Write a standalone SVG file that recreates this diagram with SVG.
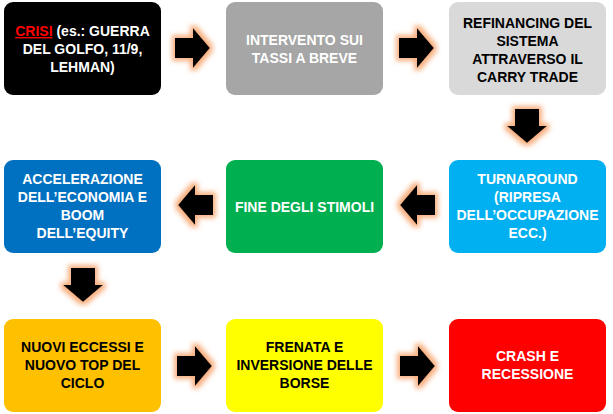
<svg xmlns="http://www.w3.org/2000/svg" width="613" height="414" viewBox="0 0 613 414">
<defs>
<filter id="glow" x="-40%" y="-40%" width="180%" height="180%">
<feMorphology in="SourceAlpha" operator="dilate" radius="3" result="d"/>
<feGaussianBlur in="d" stdDeviation="2.8" result="b"/>
<feFlood flood-color="#F7A26B" flood-opacity="0.85"/>
<feComposite in2="b" operator="in" result="g"/>
<feMerge><feMergeNode in="g"/><feMergeNode in="SourceGraphic"/></feMerge>
</filter>
<path id="ar" d="M0,-10 H18 V-20 L35,0 L18,20 V10 H0 Z"/>
<path id="al" d="M0,0 L17,-20 V-10 H35 V10 H17 V20 Z"/>
<path id="ad" d="M-12,0 H12 V17 H20 L0,34 L-20,17 H-12 Z"/>
</defs>
<style>
text{font-family:"Liberation Sans",Arial,sans-serif;font-weight:bold;font-size:14px;text-anchor:middle}
.w{fill:#FFFFFF}
.k{fill:#000000}
.arr{fill:#000000;filter:url(#glow)}
</style>
<rect width="613" height="414" fill="#FFFFFF"/>
<g id="n1">
<rect x="4" y="2" width="157" height="93" rx="9" fill="#000000"/>
<text class="w" x="82.5" y="36"><tspan fill="#FF0000" text-decoration="underline">CRISI</tspan> (es.: GUERRA</text>
<text class="w" x="82.5" y="54">DEL GOLFO, 11/9,</text>
<text class="w" x="82.5" y="72">LEHMAN)</text>
</g>
<g id="n2">
<rect x="226" y="2" width="157" height="93" rx="9" fill="#A6A6A6"/>
<text class="w" x="304.5" y="45">INTERVENTO SUI</text>
<text class="w" x="304.5" y="63">TASSI A BREVE</text>
</g>
<g id="n3">
<rect x="449" y="2" width="157" height="93" rx="9" fill="#D9D9D9"/>
<text class="k" x="527.5" y="28">REFINANCING DEL</text>
<text class="k" x="527.5" y="46">SISTEMA</text>
<text class="k" x="527.5" y="64">ATTRAVERSO IL</text>
<text class="k" x="527.5" y="82">CARRY TRADE</text>
</g>
<g id="n4">
<rect x="449" y="160" width="157" height="93" rx="9" fill="#00B0F0"/>
<text class="w" x="527.5" y="184">TURNAROUND</text>
<text class="w" x="527.5" y="202">(RIPRESA</text>
<text class="w" x="527.5" y="220">DELL’OCCUPAZIONE</text>
<text class="w" x="527.5" y="238">ECC.)</text>
</g>
<g id="n5">
<rect x="226" y="160" width="157" height="93" rx="9" fill="#00B050"/>
<text class="w" x="304.5" y="212">FINE DEGLI STIMOLI</text>
</g>
<g id="n6">
<rect x="4" y="160" width="157" height="93" rx="9" fill="#0070C0"/>
<text class="w" x="82.5" y="184">ACCELERAZIONE</text>
<text class="w" x="82.5" y="202">DELL’ECONOMIA E</text>
<text class="w" x="82.5" y="220">BOOM</text>
<text class="w" x="82.5" y="238">DELL’EQUITY</text>
</g>
<g id="n7">
<rect x="4" y="319" width="157" height="93" rx="9" fill="#FFC000"/>
<text class="k" x="82.5" y="352">NUOVI ECCESSI E</text>
<text class="k" x="82.5" y="370">NUOVO TOP DEL</text>
<text class="k" x="82.5" y="388">CICLO</text>
</g>
<g id="n8">
<rect x="226" y="319" width="157" height="93" rx="9" fill="#FFFF00"/>
<text class="k" x="304.5" y="352">FRENATA E</text>
<text class="k" x="304.5" y="370">INVERSIONE DELLE</text>
<text class="k" x="304.5" y="388">BORSE</text>
</g>
<g id="n9">
<rect x="449" y="319" width="157" height="93" rx="9" fill="#FF0000"/>
<text class="w" x="527.5" y="361">CRASH E</text>
<text class="w" x="527.5" y="379">RECESSIONE</text>
</g>
<g id="connectors">
<use href="#ar" class="arr" x="175" y="48"/>
<use href="#ar" class="arr" x="399" y="48"/>
<use href="#ad" class="arr" x="527" y="109"/>
<use href="#al" class="arr" x="400" y="205"/>
<use href="#al" class="arr" x="178" y="205"/>
<use href="#ad" class="arr" x="83" y="268"/>
<use href="#ar" class="arr" x="177" y="366"/>
<use href="#ar" class="arr" x="400" y="366"/>
</g>
</svg>
